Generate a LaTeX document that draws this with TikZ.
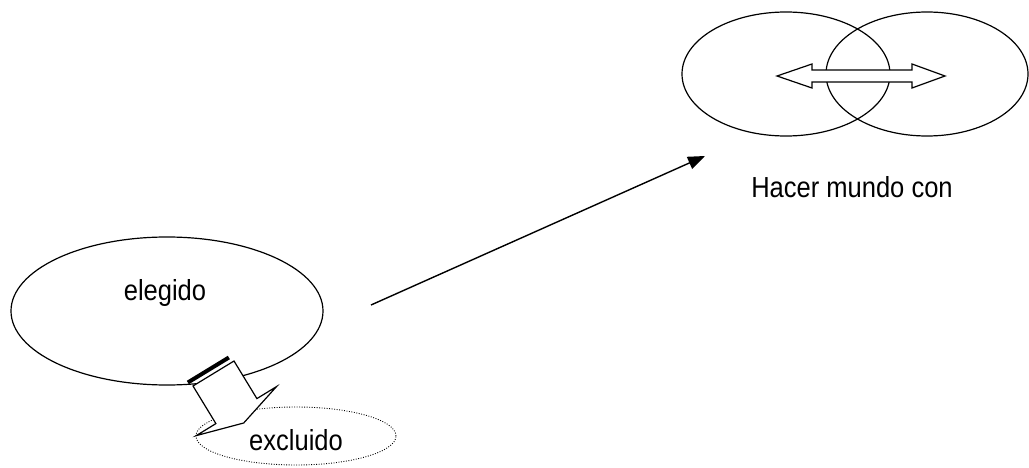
\documentclass[tikz,border=0pt]{standalone}
\usepackage{fontspec}
\setmainfont{Liberation Sans}[FakeStretch=0.88]
\usetikzlibrary{shapes.geometric,arrows.meta}
\begin{document}
\begin{tikzpicture}[x=1pt,y=-1pt,
  oval/.style={ellipse, draw=black, line width=1.2pt, inner sep=0pt, outer sep=0pt},
  dottedoval/.style={ellipse, draw=black, line width=0.9pt, dash pattern=on 0.9pt off 1.6pt, inner sep=0pt, outer sep=0pt},
  lbl/.style={font=\fontsize{29}{31}\selectfont, inner sep=0pt, anchor=base},
  block/.style={draw=black, fill=white, line width=1.2pt, line join=miter},
  conn/.style={draw=black, line width=1.4pt, -{Triangle[length=17pt,width=13pt]}}]
\path[use as bounding box, fill=white] (0,0) rectangle (1029,468);
% ovals
\node[oval, minimum width=312pt, minimum height=148pt] (elegidoOval) at (167,311) {};
\node[dottedoval, minimum width=200pt, minimum height=58pt] (excluidoOval) at (296,436) {};
\node[oval, minimum width=208pt, minimum height=124pt] (leftOval) at (786,74) {};
\node[oval, minimum width=202pt, minimum height=124pt] (rightOval) at (927,74) {};
% striped block arrow from elegido
\fill[black] (186.8,380.8) -- (227.8,355.8) -- (229.9,359.2) -- (188.9,384.2) -- cycle;
\draw[block] (193,386) -- (215.9,423.6) -- (196.3,435.6) -- (243.7,423.0)
  -- (276.5,386.6) -- (256.9,398.6) -- (234,361) -- cycle;
% double arrow inside the two ovals
\draw[block] (777,76) -- (812,64) -- (812,70) -- (912,70) -- (912,64) -- (945,76)
  -- (912,88) -- (912,82) -- (812,82) -- (812,88) -- cycle;
% labels
\node[lbl] (elegido) at (165,300) {elegido};
\node[lbl] (excluido) at (296,450) {excluido};
\node[lbl] (hacer) at (852,197) {Hacer mundo con};
% connector
\coordinate (from) at (371,305);
\coordinate (to) at (705,156);
\draw[conn] (from) -- (to);
\end{tikzpicture}
\end{document}
